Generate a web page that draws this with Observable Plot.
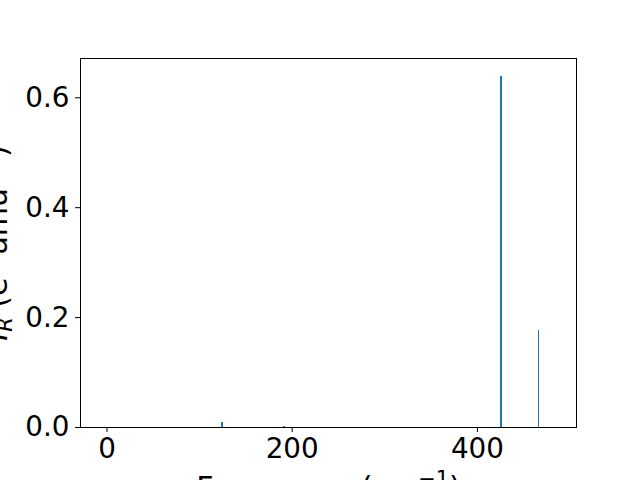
<!DOCTYPE html>
<html>
<head>
<meta charset="utf-8">
<script src="https://cdn.jsdelivr.net/npm/d3@7"></script>
<script src="https://cdn.jsdelivr.net/npm/@observablehq/plot@0.6"></script>
<style>
  html, body { margin: 0; padding: 0; background: #fff; }
  svg { font-family: "DejaVu Sans", sans-serif; }
</style>
</head>
<body>
<div id="chart"></div>
<script>
// Data
const frequencies = [124.9, 191.9, 426.0, 466.5];   // cm^-1
const intensities = [0.0095, 0.002, 0.6395, 0.177]; // e^2 amu^-1
const xTicks = [0, 200, 400];
const yTicks = [0.0, 0.2, 0.4, 0.6];
const xLabel = "Frequency (cm−1)";
const yLabel = "IR (e2 amu−1)";

const barHalfWidth = 0.8;
const data = frequencies.map((f, i) => ({f, v: intensities[i]}));
const fs = 27.8;   // tick labels
const lfs = 30;    // axis labels
const sup = Math.round(lfs * 0.7 * 10) / 10;

const chart = Plot.plot({
  width: 640,
  height: 480,
  marginLeft: 80,
  marginRight: 64,
  marginTop: 58,
  marginBottom: 53,
  style: {fontFamily: "DejaVu Sans, sans-serif", color: "#000", background: "#fff", overflow: "visible"},
  x: {domain: [-28.6, 507]},
  y: {domain: [0, 0.6715]},
  marks: [
    Plot.rectY(data, {x1: d => d.f - barHalfWidth, x2: d => d.f + barHalfWidth, y1: 0, y2: "v", fill: "#1f77b4", inset: 0, shapeRendering: "crispEdges"}),
    Plot.frame({stroke: "#000", strokeWidth: 1}),
    Plot.axisX({ticks: xTicks, tickFormat: d3.format("d"), tickSize: 5, tickPadding: 6, fontSize: fs, label: null, stroke: "#000"}),
    Plot.axisY({ticks: yTicks, tickFormat: d3.format(".1f"), tickSize: 5, tickPadding: 6, fontSize: fs, label: null, stroke: "#000"}),
    Plot.text([xLabel], {frameAnchor: "bottom", text: d => d, textAnchor: "middle", lineAnchor: "bottom", dy: 70, fontSize: lfs, fill: "#000", className: "xlabel"}),
    Plot.text([yLabel], {frameAnchor: "left", text: d => d, textAnchor: "middle", lineAnchor: "bottom", rotate: -90, dx: -74, fontSize: lfs, fill: "#000", className: "ylabel"})
  ]
});

document.getElementById("chart").appendChild(chart);

// Math-style rendering of the axis labels (subscripts / superscripts)
d3.select(chart).selectAll(".xlabel text").each(function() {
  const t = d3.select(this);
  t.text(null);
  t.append("tspan").text("Frequency (cm");
  t.append("tspan").attr("font-size", sup).attr("dy", -12).text("−1");
  t.append("tspan").attr("dy", 12).text(")");
});
d3.select(chart).selectAll(".ylabel text").each(function() {
  const t = d3.select(this);
  t.text(null);
  t.append("tspan").attr("font-style", "italic").text("I");
  t.append("tspan").attr("font-style", "italic").attr("font-size", sup).attr("dy", 5).text("R");
  t.append("tspan").attr("dy", -5).text(" (e");
  t.append("tspan").attr("font-size", sup).attr("dy", -12).text("2");
  t.append("tspan").attr("dy", 12).text(" amu");
  t.append("tspan").attr("font-size", sup).attr("dy", -12).text("−1");
  t.append("tspan").attr("dy", 12).text(")");
});
</script>
</body>
</html>
